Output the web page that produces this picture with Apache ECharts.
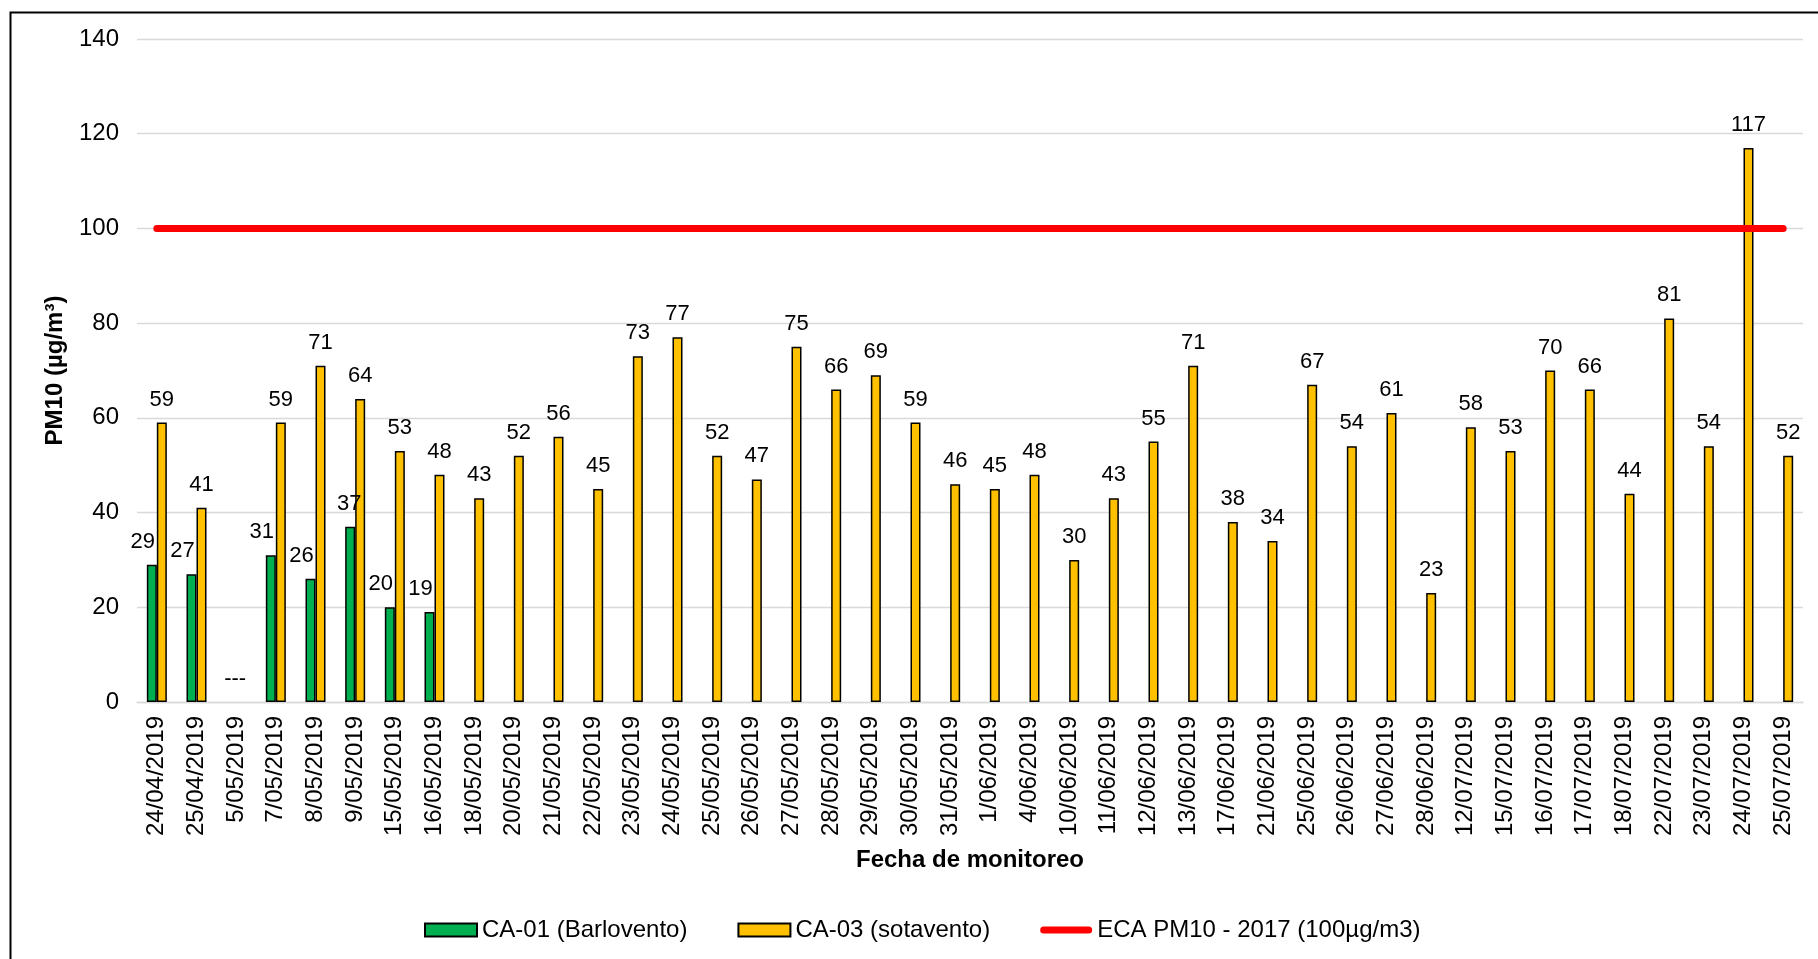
<!DOCTYPE html>
<html>
<head>
<meta charset="utf-8">
<script src="https://cdn.jsdelivr.net/npm/echarts@6/dist/echarts.min.js"></script>
<style>
html,body{margin:0;padding:0;background:#fff;}
#chart{width:1818px;height:959px;}
</style>
</head>
<body>
<div id="chart"></div>
<script>
var categories = ['24/04/2019','25/04/2019','5/05/2019','7/05/2019','8/05/2019','9/05/2019','15/05/2019','16/05/2019','18/05/2019','20/05/2019','21/05/2019','22/05/2019','23/05/2019','24/05/2019','25/05/2019','26/05/2019','27/05/2019','28/05/2019','29/05/2019','30/05/2019','31/05/2019','1/06/2019','4/06/2019','10/06/2019','11/06/2019','12/06/2019','13/06/2019','17/06/2019','21/06/2019','25/06/2019','26/06/2019','27/06/2019','28/06/2019','12/07/2019','15/07/2019','16/07/2019','17/07/2019','18/07/2019','22/07/2019','23/07/2019','24/07/2019','25/07/2019'];
var ca01 = [29,27,null,31,26,37,20,19,null,null,null,null,null,null,null,null,null,null,null,null,null,null,null,null,null,null,null,null,null,null,null,null,null,null,null,null,null,null,null,null,null,null];
var ca03 = [59,41,null,59,71,64,53,48,43,52,56,45,73,77,52,47,75,66,69,59,46,45,48,30,43,55,71,38,34,67,54,61,23,58,53,70,66,44,81,54,117,52];
var eca = categories.map(function(){ return 100; });
var yTicks = {min:0, max:140, interval:20};
var seriesNames = ['CA-01 (Barlovento)','CA-03 (sotavento)','ECA PM10 - 2017 (100µg/m3)'];
var noDataIndex = 2;
var noDataText = '---';

var FONT = '"Liberation Sans", Arial, sans-serif';
var chart = echarts.init(document.getElementById('chart'), null, {renderer:'canvas'});

var greenData = ca01.map(function(v,i){
  if (v === null) return null;
  if (i === 5) return {value:v, label:{offset:[-1,0]}};
  return v;
});

var capsule = 'path://M3.5,0 L48.5,0 A3.5,3.5 0 0 1 48.5,7 L3.5,7 A3.5,3.5 0 0 1 3.5,0 Z';

var option = {
  animation:false,
  backgroundColor:'#ffffff',
  textStyle:{fontFamily:FONT},
  graphic:[{
    type:'rect', left:8, top:10, z:100, silent:true,
    shape:{x:0,y:0,width:1840,height:980},
    style:{fill:'none', stroke:'#000', lineWidth:2}
  }],
  grid:{left:137, right:15, top:39, bottom:257, containLabel:false},
  legend:{
    left:419, top:913,
    itemWidth:52, itemHeight:13, itemGap:50,
    textStyle:{fontFamily:FONT, fontSize:24, color:'#000'},
    data:[
      {name:seriesNames[0], icon:'rect'},
      {name:seriesNames[1], icon:'rect'},
      {name:seriesNames[2], icon:capsule, itemStyle:{color:'#FF0000', borderWidth:0}}
    ]
  },
  xAxis:{
    type:'category',
    data:categories,
    name:'Fecha de monitoreo',
    nameLocation:'middle',
    nameGap:146,
    nameTextStyle:{fontFamily:FONT, fontSize:24, fontWeight:'bold', color:'#000'},
    axisLine:{show:true, lineStyle:{color:'#D9D9D9', width:1.3}},
    axisTick:{show:false},
    axisLabel:{interval:0, rotate:90, margin:14, fontFamily:FONT, fontSize:24, color:'#000'},
    splitLine:{show:false}
  },
  yAxis:{
    type:'value',
    min:yTicks.min, max:yTicks.max, interval:yTicks.interval,
    name:'PM10 (µg/m³)',
    nameLocation:'middle',
    nameGap:70,
    nameTextStyle:{fontFamily:FONT, fontSize:24, fontWeight:'bold', color:'#000'},
    axisLine:{show:false},
    axisTick:{show:false},
    axisLabel:{margin:18, fontFamily:FONT, fontSize:24, color:'#000'},
    splitLine:{show:true, lineStyle:{color:'#D9D9D9', width:1.3}}
  },
  series:[
    {
      name:seriesNames[0], type:'bar', data:greenData,
      barWidth:10, barGap:'0%',
      itemStyle:{color:'#00B050', borderColor:'#000', borderWidth:1.5},
      label:{show:true, position:'top', distance:12, offset:[-9,0], fontFamily:FONT, fontSize:22, color:'#000'},
      z:2
    },
    {
      name:seriesNames[1], type:'bar', data:ca03,
      barWidth:10, barGap:'0%',
      itemStyle:{color:'#FFC000', borderColor:'#000', borderWidth:1.5},
      label:{show:true, position:'top', distance:12, fontFamily:FONT, fontSize:22, color:'#000'},
      markPoint:{
        symbol:'rect', symbolSize:0, silent:true,
        label:{show:true, position:'top', distance:12, offset:[-6,0], fontFamily:FONT, fontSize:22, color:'#000', formatter:noDataText},
        data:[{coord:[categories[noDataIndex], 0]}]
      },
      z:2
    },
    {
      name:seriesNames[2], type:'line', data:eca,
      symbol:'none', showSymbol:false,
      lineStyle:{color:'#FF0000', width:7, cap:'round'},
      itemStyle:{color:'#FF0000'},
      z:5
    }
  ]
};
chart.setOption(option);
</script>
</body>
</html>
